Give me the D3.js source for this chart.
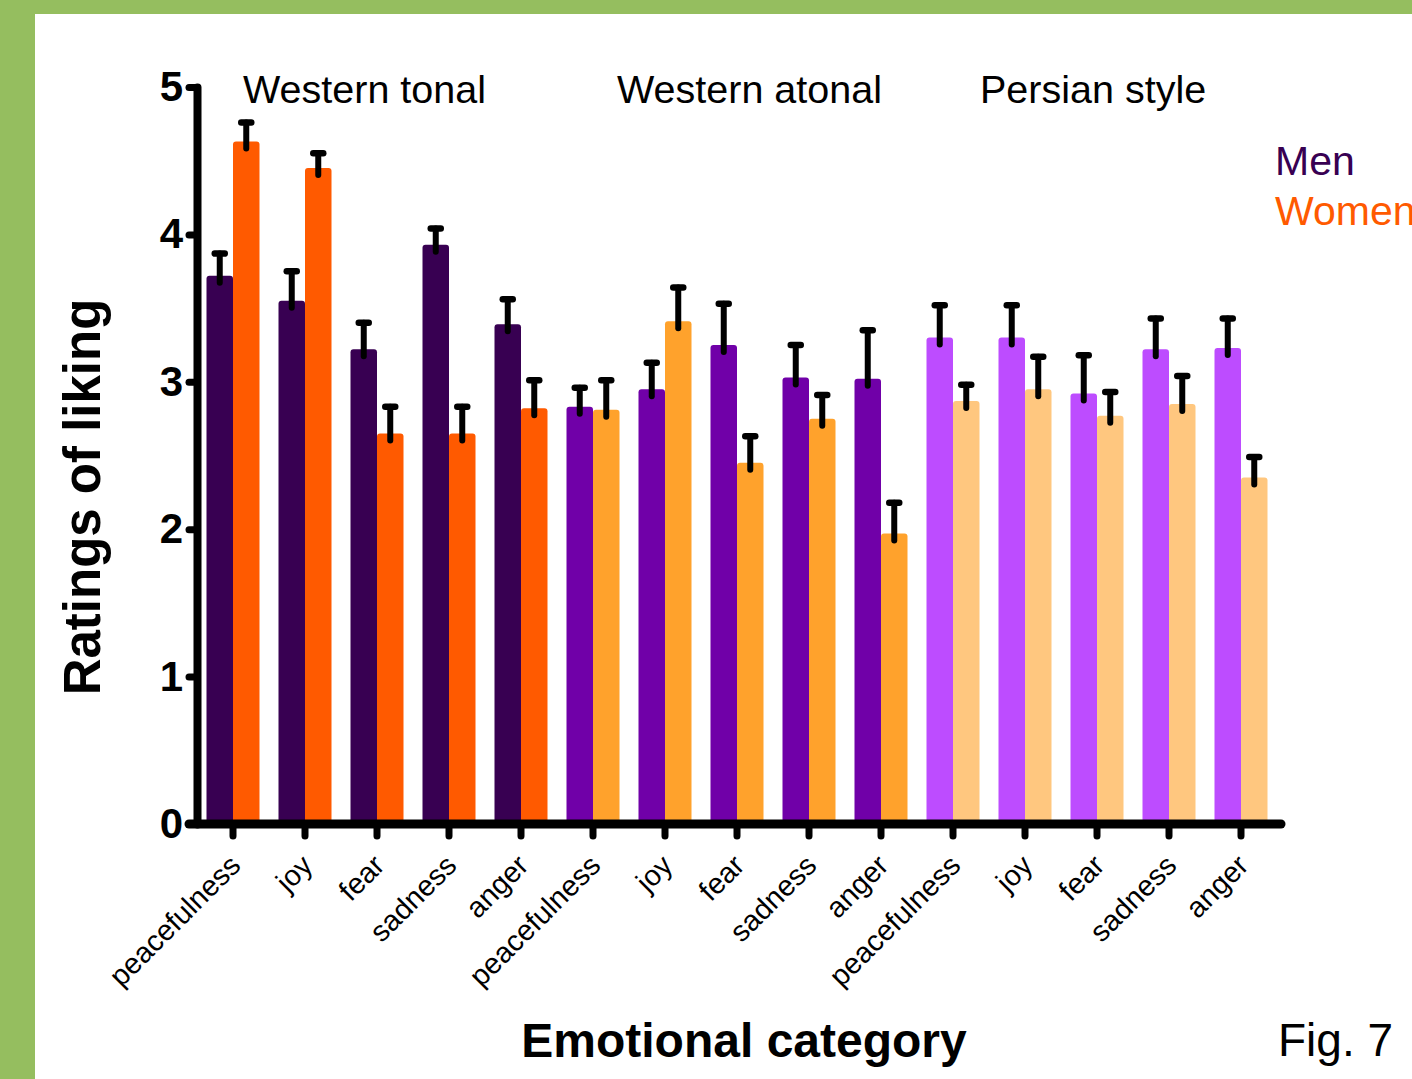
<!DOCTYPE html>
<html>
<head>
<meta charset="utf-8">
<script src="https://cdn.jsdelivr.net/npm/d3@7"></script>
<style>
  html, body { margin: 0; padding: 0; background: #ffffff; }
  svg { display: block; }
  text { font-family: "Liberation Sans", Arial, sans-serif; }
</style>
</head>
<body>
<svg id="chart" width="1412" height="1079"></svg>
<script>
// Emotional category of each excerpt, in plotting order
const categories = [
  "peacefulness", "joy", "fear", "sadness", "anger",
  "peacefulness", "joy", "fear", "sadness", "anger",
  "peacefulness", "joy", "fear", "sadness", "anger"
];
// Musical style of each category (index into styles)
const styleOf = [0, 0, 0, 0, 0, 1, 1, 1, 1, 1, 2, 2, 2, 2, 2];
const styles = ["Western tonal", "Western atonal", "Persian style"];

// Mean liking ratings
const menMeans   = [3.72, 3.55, 3.22, 3.93, 3.39, 2.83, 2.95, 3.25, 3.03, 3.02, 3.30, 3.30, 2.92, 3.22, 3.23];
const womenMeans = [4.63, 4.45, 2.65, 2.65, 2.82, 2.81, 3.41, 2.45, 2.75, 1.97, 2.87, 2.95, 2.77, 2.85, 2.35];
// Standard errors of the means
const menSem   = [0.15, 0.20, 0.18, 0.11, 0.17, 0.13, 0.18, 0.28, 0.22, 0.33, 0.22, 0.22, 0.26, 0.21, 0.20];
const womenSem = [0.13, 0.10, 0.18, 0.18, 0.19, 0.20, 0.23, 0.18, 0.16, 0.21, 0.11, 0.22, 0.16, 0.19, 0.14];

const yTicks = [0, 1, 2, 3, 4, 5];
const sexes = ["Men", "Women"];

// Bar colours per style
const menColors   = ["#380052", "#7000A8", "#BD4CFF"];
const womenColors = ["#FF5A00", "#FFA22C", "#FFC77F"];

const svg = d3.select("#chart");

// page frame
svg.append("rect").attr("x", 0).attr("y", 0).attr("width", 1412).attr("height", 1079).attr("fill", "#95BE5F");
svg.append("rect").attr("x", 35).attr("y", 14).attr("width", 1377).attr("height", 1065).attr("fill", "#ffffff");

const x = d3.scaleBand().domain(d3.range(categories.length)).range([197, 1277]).padding(0);
const y = d3.scaleLinear().domain([0, 5]).range([824, 87]);
const barW = 26.5;
const xs = d3.scaleBand().domain(sexes).range([-barW, barW]);

const rows = categories.map((c, i) => ({
  i, c, s: styleOf[i],
  vals: [
    { sex: "Men", mean: menMeans[i], sem: menSem[i], color: menColors[styleOf[i]] },
    { sex: "Women", mean: womenMeans[i], sem: womenSem[i], color: womenColors[styleOf[i]] }
  ]
}));

const g = svg.append("g");
const groups = g.selectAll("g.cat").data(rows).join("g")
  .attr("class", "cat")
  .attr("transform", d => `translate(${x(d.i) + x.bandwidth() / 2},0)`);

// bars (rounded top corners; bottom hidden under the axis)
groups.selectAll("rect.bar").data(d => d.vals).join("rect")
  .attr("class", "bar")
  .attr("x", d => xs(d.sex))
  .attr("width", xs.bandwidth())
  .attr("y", d => y(d.mean))
  .attr("height", d => y(0) - y(d.mean) + 2)
  .attr("rx", 3)
  .attr("fill", d => d.color);

// error bars (mean + SEM)
groups.selectAll("line.err").data(d => d.vals).join("line")
  .attr("class", "err")
  .attr("x1", d => xs(d.sex) + xs.bandwidth() / 2)
  .attr("x2", d => xs(d.sex) + xs.bandwidth() / 2)
  .attr("y1", d => y(d.mean) + 7)
  .attr("y2", d => y(d.mean + d.sem))
  .attr("stroke", "#000").attr("stroke-width", 6).attr("stroke-linecap", "round");
groups.selectAll("line.cap").data(d => d.vals).join("line")
  .attr("class", "cap")
  .attr("x1", d => xs(d.sex) + xs.bandwidth() / 2 - 5)
  .attr("x2", d => xs(d.sex) + xs.bandwidth() / 2 + 5)
  .attr("y1", d => y(d.mean + d.sem))
  .attr("y2", d => y(d.mean + d.sem))
  .attr("stroke", "#000").attr("stroke-width", 6.5).attr("stroke-linecap", "round");

// y axis
const yAxis = svg.append("g").attr("transform", "translate(197,0)")
  .call(d3.axisLeft(y).tickValues(yTicks).tickFormat(d3.format("d")).tickSize(8).tickSizeOuter(0).tickPadding(6));
yAxis.select(".domain").attr("stroke", "#000").attr("stroke-width", 8).attr("stroke-linecap", "round");
yAxis.selectAll(".tick line").attr("stroke", "#000").attr("stroke-width", 7).attr("stroke-linecap", "round");
yAxis.selectAll(".tick text")
  .attr("fill", "#000").attr("font-size", 42).attr("font-weight", "bold")
  .attr("font-family", "'Liberation Sans', Arial, sans-serif");

// x axis
const xAxis = svg.append("g").attr("transform", `translate(0,${y(0)})`)
  .call(d3.axisBottom(x).tickFormat(i => categories[i]).tickSize(12).tickSizeOuter(0));
xAxis.select(".domain").remove();
xAxis.insert("line", ":first-child")
  .attr("x1", x.range()[0] - 8).attr("x2", x.range()[1] + 4)
  .attr("y1", 0).attr("y2", 0)
  .attr("stroke", "#000").attr("stroke-width", 9).attr("stroke-linecap", "round");
xAxis.selectAll(".tick line").attr("stroke", "#000").attr("stroke-width", 7).attr("stroke-linecap", "round").attr("y1", 4);
xAxis.selectAll(".tick text")
  .attr("fill", "#000").attr("font-size", 29)
  .attr("font-family", "'Liberation Sans', Arial, sans-serif")
  .attr("text-anchor", "end")
  .attr("x", 0).attr("y", 0).attr("dy", "0.35em")
  .attr("transform", "translate(2,36) rotate(-45)");

// style titles
const titleX = [243, 617, 980];
svg.selectAll("text.style").data(styles).join("text")
  .attr("class", "style")
  .attr("x", (d, i) => titleX[i]).attr("y", 103)
  .attr("font-size", 39.5).attr("fill", "#000")
  .text(d => d);

// legend
svg.selectAll("text.legend").data(sexes).join("text")
  .attr("class", "legend")
  .attr("x", 1275).attr("y", (d, i) => 175 + i * 50)
  .attr("font-size", 41)
  .attr("fill", (d, i) => i === 0 ? menColors[0] : womenColors[0])
  .text(d => d);

// axis titles
svg.append("text")
  .attr("transform", "translate(100,497) rotate(-90)")
  .attr("text-anchor", "middle").attr("font-size", 51).attr("font-weight", "bold").attr("fill", "#000")
  .text("Ratings of liking");
svg.append("text")
  .attr("x", 744).attr("y", 1057)
  .attr("text-anchor", "middle").attr("font-size", 48).attr("font-weight", "bold").attr("fill", "#000")
  .text("Emotional category");

svg.append("text")
  .attr("x", 1278).attr("y", 1056)
  .attr("font-size", 46).attr("fill", "#000")
  .text("Fig. 7");
</script>
</body>
</html>
